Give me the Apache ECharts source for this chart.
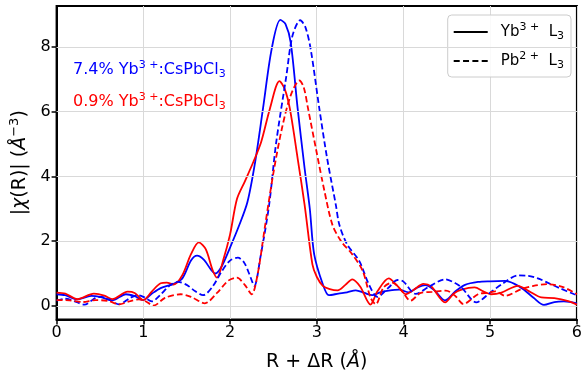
<!DOCTYPE html>
<html>
<head>
<meta charset="utf-8">
<script src="https://cdn.jsdelivr.net/npm/echarts@6/dist/echarts.min.js"></script>
<style>html,body{margin:0;padding:0;background:#fff}#c{width:585px;height:377px}</style>
</head>
<body>
<div id="c"></div>
<script>
// ---- data (R + dR in Angstrom, |chi(R)|) ----
var xTicks = [0, 1, 2, 3, 4, 5, 6];
var yTicks = [0, 2, 4, 6, 8];

var yb74_YbL3 = [
[0,0.36],[0.1,0.33],[0.24,0.2],[0.4,0.31],[0.5,0.28],[0.64,0.17],[0.8,0.36],[0.9,0.3],[1.0,0.18],
[1.1,0.38],[1.2,0.55],[1.35,0.68],[1.45,0.85],[1.55,1.4],[1.62,1.55],[1.7,1.42],[1.78,1.12],[1.83,1.0],
[1.9,1.2],[2.0,1.8],[2.1,2.45],[2.2,3.2],[2.29,4.45],[2.38,6.09],[2.48,7.93],[2.58,8.83],[2.64,8.7],
[2.7,8.13],[2.78,6.09],[2.86,4.25],[2.92,3.0],[2.97,1.6],[3.07,0.67],[3.14,0.33],[3.25,0.38],[3.35,0.42],
[3.45,0.48],[3.55,0.4],[3.64,0.33],[3.73,0.42],[3.83,0.47],[3.95,0.5],[4.06,0.42],[4.15,0.55],[4.25,0.64],
[4.35,0.5],[4.48,0.17],[4.6,0.45],[4.71,0.65],[4.86,0.74],[5.0,0.76],[5.17,0.77],[5.28,0.68],[5.39,0.5],
[5.5,0.25],[5.62,0.03],[5.74,0.12],[5.85,0.14],[6.0,0.08]
];
var yb09_YbL3 = [
[0,0.41],[0.1,0.38],[0.24,0.21],[0.43,0.38],[0.55,0.32],[0.64,0.21],[0.82,0.44],[0.9,0.4],[1.0,0.18],
[1.1,0.45],[1.2,0.7],[1.27,0.72],[1.35,0.66],[1.45,0.95],[1.55,1.6],[1.64,1.96],[1.72,1.75],[1.8,1.1],
[1.85,0.87],[1.92,1.4],[2.0,2.2],[2.08,3.3],[2.17,3.84],[2.27,4.45],[2.36,5.07],[2.46,6.09],[2.57,6.94],
[2.63,6.7],[2.69,6.09],[2.78,4.55],[2.86,3.12],[2.95,1.28],[3.0,0.9],[3.07,0.62],[3.15,0.52],[3.24,0.48],
[3.33,0.65],[3.41,0.82],[3.5,0.6],[3.62,0.04],[3.7,0.45],[3.83,0.85],[3.93,0.62],[4.03,0.36],[4.12,0.5],
[4.23,0.68],[4.32,0.6],[4.48,0.11],[4.58,0.38],[4.67,0.5],[4.82,0.57],[4.92,0.45],[5.01,0.36],[5.13,0.41],
[5.32,0.62],[5.45,0.45],[5.59,0.26],[5.74,0.24],[5.9,0.15],[6.0,0.04]
];
var yb74_PbL3 = [
[0,0.16],[0.1,0.22],[0.2,0.15],[0.32,0.04],[0.45,0.25],[0.52,0.28],[0.6,0.2],[0.72,0.05],[0.85,0.25],
[0.93,0.33],[1.0,0.28],[1.1,0.14],[1.2,0.35],[1.3,0.62],[1.4,0.74],[1.5,0.65],[1.6,0.45],[1.69,0.33],
[1.8,0.6],[1.9,1.05],[2.0,1.4],[2.09,1.49],[2.16,1.35],[2.22,1.0],[2.28,0.62],[2.35,1.5],[2.45,3.1],
[2.53,5.0],[2.65,7.11],[2.72,8.34],[2.81,8.82],[2.87,8.6],[2.93,7.93],[3.03,6.09],[3.12,4.55],[3.22,3.12],
[3.26,2.51],[3.35,1.9],[3.49,1.39],[3.6,0.67],[3.7,0.28],[3.83,0.57],[3.93,0.8],[4.0,0.75],[4.14,0.37],
[4.3,0.6],[4.48,0.82],[4.6,0.7],[4.67,0.57],[4.84,0.11],[5.0,0.41],[5.15,0.7],[5.32,0.94],[5.44,0.93],
[5.55,0.85],[5.66,0.72],[5.8,0.55],[5.97,0.36],[6.0,0.34]
];
var yb09_PbL3 = [
[0,0.18],[0.15,0.17],[0.3,0.12],[0.45,0.18],[0.6,0.15],[0.72,0.05],[0.85,0.15],[0.95,0.2],[1.02,0.15],
[1.12,0.01],[1.25,0.25],[1.43,0.36],[1.55,0.28],[1.71,0.08],[1.85,0.4],[1.98,0.78],[2.08,0.87],[2.17,0.65],
[2.25,0.36],[2.32,1.0],[2.4,2.4],[2.5,4.1],[2.6,5.5],[2.7,6.5],[2.8,6.96],[2.85,6.75],[2.9,6.09],
[2.99,4.86],[3.09,3.53],[3.18,2.51],[3.28,2.0],[3.41,1.59],[3.53,1.08],[3.62,0.26],[3.68,0.05],[3.77,0.57],
[3.87,0.72],[3.98,0.47],[4.08,0.16],[4.2,0.4],[4.33,0.43],[4.49,0.47],[4.6,0.3],[4.69,0.06],[4.86,0.36],
[4.98,0.41],[5.06,0.45],[5.17,0.31],[5.36,0.52],[5.5,0.62],[5.66,0.67],[5.85,0.57],[6.0,0.36]
];

var FONT = 'DejaVu Sans';
var chart = echarts.init(document.getElementById('c'), null, {renderer: 'canvas'});

function curve(data, color, dashed) {
  return {
    type: 'line', data: data, smooth: 0.3, symbol: 'none', showSymbol: false, silent: true, z: 3,
    lineStyle: {color: color, width: 1.8, type: dashed ? [6, 3] : 'solid'}
  };
}
var labRich = {
  a: {fontFamily: FONT, fontSize: 16, lineHeight: 20},
  s: {fontFamily: FONT, fontSize: 11, lineHeight: 11, verticalAlign: 'top'},
  b: {fontFamily: FONT, fontSize: 11, lineHeight: 10, verticalAlign: 'bottom'}
};
function richFor(color) {
  var r = {};
  for (var k in labRich) { r[k] = Object.assign({}, labRich[k], {fill: color, color: color}); }
  return r;
}

var option = {
  animation: false,
  backgroundColor: '#fff',
  grid: {left: 55, top: 6, right: 5, bottom: 55, show: true, borderColor: '#000', borderWidth: 2, backgroundColor: 'transparent'},
  xAxis: {
    type: 'value', min: 0, max: 6, interval: 1,
    name: '{a|R + ΔR (}{i|Å}{a|)}', nameLocation: 'middle', nameGap: 31,
    nameTextStyle: {rich: {
      a: {fontFamily: FONT, fontSize: 19, color: '#000', lineHeight: 24},
      i: {fontFamily: FONT, fontSize: 19, fontStyle: 'italic', color: '#000', lineHeight: 24}
    }},
    axisLine: {show: true, onZero: false, lineStyle: {color: '#000', width: 2}},
    axisTick: {show: true, length: 5, lineStyle: {color: '#000', width: 1.5}},
    axisLabel: {color: '#000', fontFamily: FONT, fontSize: 16, margin: 5},
    splitLine: {show: true, lineStyle: {color: '#d9d9d9', width: 1}}
  },
  yAxis: {
    type: 'value', min: -0.42, max: 9.26,
    name: '{a||}{i|χ}{a|(R)| (}{i|Å}{s|−3}{a|)}', nameLocation: 'middle', nameRotate: 90, nameGap: 17,
    nameTextStyle: {rich: {
      a: {fontFamily: FONT, fontSize: 19, color: '#000', lineHeight: 24},
      i: {fontFamily: FONT, fontSize: 19, fontStyle: 'italic', color: '#000', lineHeight: 24},
      s: {fontFamily: FONT, fontSize: 13, color: '#000', lineHeight: 13, verticalAlign: 'top'}
    }},
    axisLine: {show: true, onZero: false, lineStyle: {color: '#000', width: 2}},
    axisTick: {show: true, length: 5, customValues: yTicks, lineStyle: {color: '#000', width: 1.5}},
    axisLabel: {color: '#000', fontFamily: FONT, fontSize: 16, margin: 6, customValues: yTicks},
    splitLine: {show: false}
  },
  legend: {
    data: [
      {name: 'Yb L3', icon: 'path://M0,0h34v2h-34z'},
      {name: 'Pb L3', icon: 'path://M0,0h6v2h-6zM9.33,0h6v2h-6zM18.66,0h6v2h-6zM28,0h6v2h-6z'}
    ],
    orient: 'vertical', right: 14, top: 15,
    itemWidth: 34, itemHeight: 2, itemGap: 9,
    padding: [7, 7, 6, 6],
    itemStyle: {color: '#000', borderWidth: 0},
    backgroundColor: 'rgba(255,255,255,0.85)', borderColor: '#cccccc', borderWidth: 1, borderRadius: 4,
    formatter: function (name) {
      return name === 'Yb L3' ? '{a|Yb}{s|3 +}{a|  L}{b|3}' : '{a|Pb}{s|2 +}{a|  L}{b|3}';
    },
    textStyle: {padding: [0, 0, 0, 8], rich: {
      a: {fontFamily: FONT, fontSize: 15, color: '#000', lineHeight: 20},
      s: {fontFamily: FONT, fontSize: 11, color: '#000', lineHeight: 11, verticalAlign: 'top'},
      b: {fontFamily: FONT, fontSize: 11, color: '#000', lineHeight: 10, verticalAlign: 'bottom'}
    }}
  },
  graphic: [
    {type: 'text', left: 73, top: 60, z: 10, style: {text: '{a|7.4% Yb}{s|3 +}{a|:CsPbCl}{b|3}', rich: richFor('#0000ff'), fill: '#0000ff'}},
    {type: 'text', left: 73, top: 92, z: 10, style: {text: '{a|0.9% Yb}{s|3 +}{a|:CsPbCl}{b|3}', rich: richFor('#ff0000'), fill: '#ff0000'}}
  ],
  series: [
    {type: 'line', name: 'grid', data: [[0, null]], symbol: 'none', silent: true, z: 1,
     markLine: {silent: true, symbol: 'none', animation: false, label: {show: false},
       lineStyle: {color: '#d9d9d9', width: 1, type: 'solid'},
       data: yTicks.map(function (v) { return {yAxis: v}; })}},
    curve(yb74_YbL3, '#0000ff', false),
    curve(yb09_YbL3, '#ff0000', false),
    curve(yb74_PbL3, '#0000ff', true),
    curve(yb09_PbL3, '#ff0000', true),
    {type: 'line', name: 'Yb L3', data: [], symbol: 'none', itemStyle: {color: '#000'}, lineStyle: {color: '#000', width: 1.8, type: 'solid'}},
    {type: 'line', name: 'Pb L3', data: [], symbol: 'none', itemStyle: {color: '#000'}, lineStyle: {color: '#000', width: 1.8, type: [6, 3]}}
  ]
};
chart.setOption(option);
</script>
</body>
</html>
